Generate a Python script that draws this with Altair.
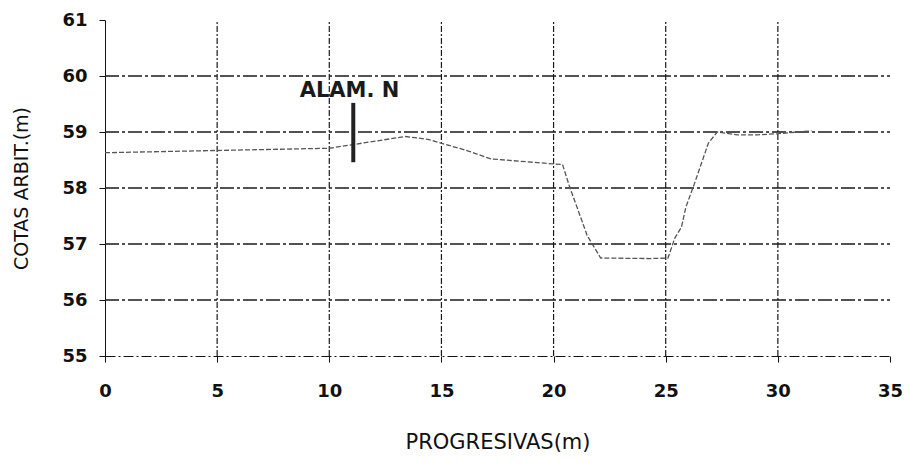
import altair as alt
import pandas as pd

# Profile data (PROGRESIVAS vs COTAS)
prog = [0, 10.0, 13.4, 14.4, 16.2, 17.2, 20.0, 20.4, 20.7, 21.5, 22.1, 24.3, 25.1,
        25.4, 25.7, 25.9, 26.3, 26.6, 26.9, 27.3, 28.2, 29.1, 30.0, 31.5]
cota = [58.63, 58.71, 58.92, 58.87, 58.66, 58.52, 58.43, 58.42, 58.04, 57.15, 56.75,
        56.74, 56.75, 57.1, 57.3, 57.66, 58.1, 58.45, 58.8, 59.0, 58.95, 58.95, 58.97, 59.02]

# Marker "ALAM. N"
marker_x = [11.07]
marker_y0 = [58.46]
marker_y1 = [59.52]
label_text = ["ALAM. N"]
label_x = [10.9]
label_y = [59.62]

# Axes / grid
x_ticks = [0, 5, 10, 15, 20, 25, 30, 35]
y_ticks = [55, 56, 57, 58, 59, 60, 61]
x_grid = [5, 10, 15, 20, 25, 30]
y_grid = [56, 57, 58, 59, 60]
X_MIN, X_MAX = 0, 35
Y_MIN, Y_MAX = 55, 61

FONT = "DejaVu Sans"

xs = alt.Scale(domain=[X_MIN, X_MAX], nice=False, zero=False)
ys = alt.Scale(domain=[Y_MIN, Y_MAX], nice=False, zero=False)

df = pd.DataFrame({"x": prog, "y": cota})
hgrid = pd.DataFrame({"y": y_grid, "x0": [X_MIN] * len(y_grid), "x1": [X_MAX] * len(y_grid)})
vgrid = pd.DataFrame({"x": x_grid, "y0": [Y_MIN] * len(x_grid), "y1": [Y_MAX] * len(x_grid)})
mk = pd.DataFrame({"x": marker_x, "y0": marker_y0, "y1": marker_y1})
lb = pd.DataFrame({"x": label_x, "y": label_y, "t": label_text})

x_axis = alt.Axis(values=x_ticks, grid=False, title="PROGRESIVAS(m)", format="d",
                  labelFont=FONT, labelFontWeight="bold", labelFontSize=18, labelColor="#111",
                  labelPadding=20, tickSize=6, tickColor="#111", domainColor="#111",
                  domainDash=[10, 3, 2, 3], titleFont=FONT, titleFontWeight="normal",
                  titleFontSize=21, titleColor="#111", titleX=392.5, titleY=86,
                  titleBaseline="middle", titleAlign="center", labelFlush=False)
y_axis = alt.Axis(values=y_ticks, grid=False, title="COTAS ARBIT.(m)", format="d",
                  labelFont=FONT, labelFontWeight="bold", labelFontSize=18, labelColor="#111",
                  labelPadding=12, tickSize=6, tickColor="#111", domainColor="#111",
                  titleFont=FONT, titleFontWeight="normal", titleFontSize=19, titleColor="#111",
                  titleX=-84, titleY=168, titleAngle=-90, titleBaseline="middle",
                  titleAlign="center", labelFlush=False)

h = alt.Chart(hgrid).mark_rule(color="#1a1a1a", strokeWidth=1.3, strokeDash=[14, 3, 3, 3]).encode(
    y=alt.Y("y:Q", scale=ys, axis=y_axis),
    x=alt.X("x0:Q", scale=xs, axis=x_axis),
    x2="x1:Q",
)
v = alt.Chart(vgrid).mark_rule(color="#1a1a1a", strokeWidth=1.2, strokeDash=[6, 2, 2, 2]).encode(
    x=alt.X("x:Q", scale=xs),
    y=alt.Y("y0:Q", scale=ys),
    y2="y1:Q",
)
line = alt.Chart(df).mark_line(color="#555", strokeWidth=1.3, strokeDash=[5, 2]).encode(
    x=alt.X("x:Q", scale=xs),
    y=alt.Y("y:Q", scale=ys),
)
marker = alt.Chart(mk).mark_rule(color="#222", strokeWidth=4).encode(
    x=alt.X("x:Q", scale=xs),
    y=alt.Y("y0:Q", scale=ys),
    y2="y1:Q",
)
text = alt.Chart(lb).mark_text(font=FONT, fontWeight="bold", fontSize=21, color="#1a1a1a",
                               align="center", baseline="alphabetic").encode(
    x=alt.X("x:Q", scale=xs),
    y=alt.Y("y:Q", scale=ys),
    text="t:N",
)

chart = alt.layer(h, v, line, marker, text).properties(
    width=785, height=336,
    autosize=alt.AutoSizeParams(type="none"),
    padding={"left": 97, "top": 12, "right": 12, "bottom": 100},
    background="white",
).configure_view(stroke=None)

chart.save("out.html", embed_options={"renderer": "svg", "actions": False})
